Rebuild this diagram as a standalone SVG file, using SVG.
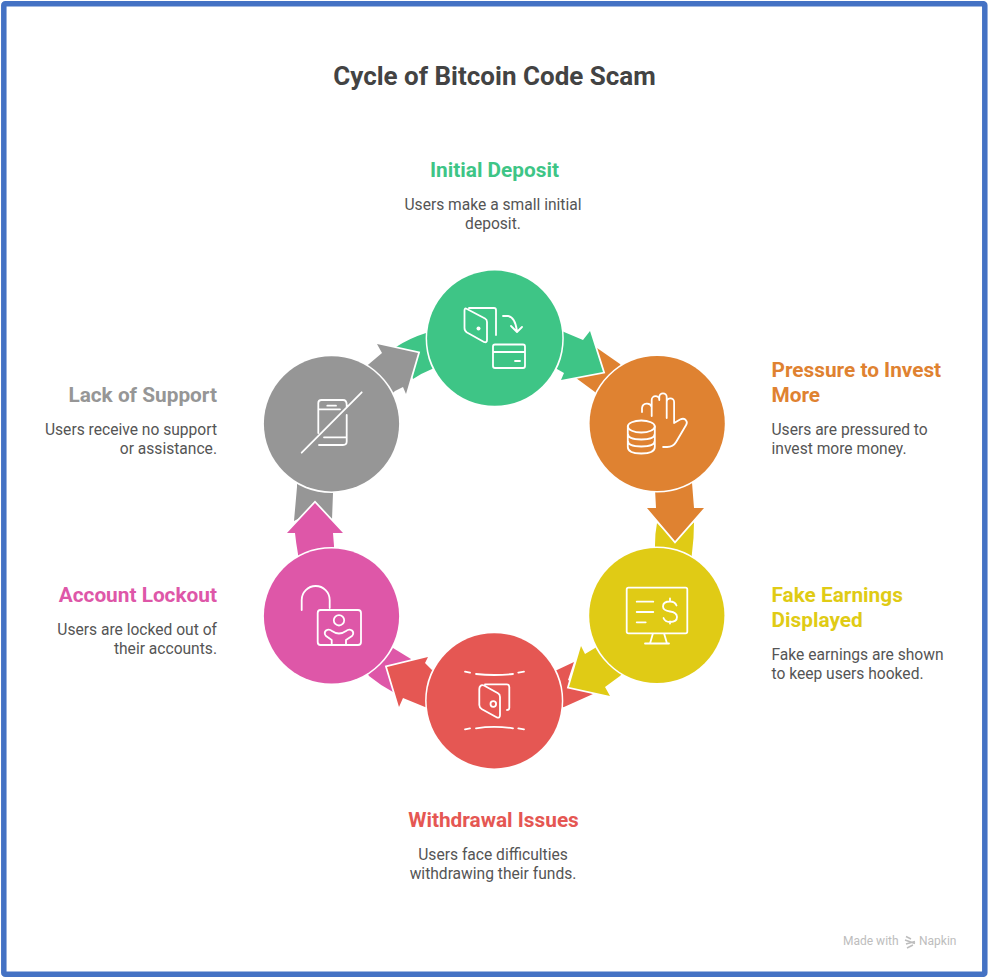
<svg xmlns="http://www.w3.org/2000/svg" width="989" height="978" viewBox="0 0 989 978">
<style>
text{font-family:Roboto,"Liberation Sans",sans-serif}
.title{font-size:26px;font-weight:700;fill:#434343;text-anchor:middle}
.h{font-size:20.8px;font-weight:700}
.b{font-size:15.6px;fill:#555}
.m{text-anchor:middle}
.e{text-anchor:end}
.c{stroke:#fff;stroke-width:3;paint-order:stroke}
.head{stroke:#fff;stroke-width:3.5;paint-order:stroke;stroke-linejoin:miter}
.i{fill:none;stroke:#fff;stroke-width:1.8;stroke-linecap:round;stroke-linejoin:round}
.g{fill:#3EC586}.o{fill:#DF8231}.y{fill:#E0CB15}.r{fill:#E55753}.p{fill:#DE57A8}.a{fill:#969696}
</style>
<rect width="989" height="978" fill="#fff"/>
<rect x="3.8" y="3.8" width="981" height="970.5" rx="1.5" fill="none" stroke="#4472C4" stroke-width="5.5"/>
<text class="title" x="494.5" y="85">Cycle of Bitcoin Code Scam</text>
<g id="connectors">
<g id="tails">
<path class="g" d="M396,347Q410,338 426,333L450,335L450,362L432,369Q422,373 413,379L405,360Z"/>
<path class="o" d="M597,348L620,364L640,400L610,410L595,392L576,378L590,360Z"/>
<path class="y" d="M657,523L675,541L694,522Q694,538 692,553L690,570L655,570L655,545Q655,533 657,523Z"/>
<path class="r" d="M574,662L557,670L540,675L540,712L564,707L593,694L568,680Z"/>
<path class="p" d="M393,648L411,659L400,680L393,692Q380,685 369,676L360,660L375,640Z"/>
<path class="a" d="M297,487L297,470L335,470L333,493L332,520L315,510L294,521Z"/>
</g>
<g id="heads">
<path class="g head" d="M545,320L564,332L583,340L590,331L603,372L561,380L564,373L557,369L540,360Z"/>
<path class="o head" d="M654,470L656,508L647,508L675,541L704,508L694,508L691,470Z"/>
<path class="y head" d="M610,635L595,648L585,654L581,646L569,687L610,696L605,687L620,676L635,660Z"/>
<path class="r head" d="M445,665L432,670L425,663L428,657L387,667L399,707L403,698L425,707L445,712Z"/>
<path class="p head" d="M298,570L298,554Q296,543 295,533L287,533L315,503L343,533L333,533L334,546L334,570Z"/>
<path class="a head" d="M355,375L369,364L382,353L377,344L418,353L406,394L403,387L395,391L385,400Z"/>
</g>
</g>
<g id="node-initial-deposit">
<circle class="g c" cx="494.7" cy="338.2" r="67.6"/>
<path class="i" d="M466,308.5L485,318.5Q487,319.5 487,322V340Q487,343 484,342L467,332.5Q464.5,331 464.5,328V311Q464.5,308 466,308.5ZM469,308H494Q496,308 496,310V335M503,316H508Q515,317 517,331M511,326L517,332L522,327M495,344.5H523Q525,344.5 525,346.5V366Q525,368 523,368H495Q493,368 493,366V346.5Q493,344.5 495,344.5ZM493,352H525M515,361H520"/>
<circle cx="478.5" cy="328.5" r="2" fill="#fff"/>
<text class="h m" x="494.5" y="176.5" fill="#3EC586">Initial Deposit</text>
<text class="b m" x="493" y="209.5">Users make a small initial</text>
<text class="b m" x="493" y="228.5">deposit.</text>
</g>
<g id="node-pressure">
<circle class="o c" cx="657.2" cy="423.5" r="67.6"/>
<ellipse class="i" cx="641.3" cy="426.5" rx="13.5" ry="6"/>
<path class="i" d="M627.8,426.5V447Q627.8,453.5 641.3,453.5T654.8,447V426.5M627.8,433.5Q627.8,439.5 641.3,439.5T654.8,433.5M627.8,440.5Q627.8,446.5 641.3,446.5T654.8,440.5M642,412V408a5,5 0 0 1 9.7,-1M651.7,416V400a3.8,3.8 0 0 1 7.6,0V397a3.7,3.7 0 0 1 7.4,0V418M666.7,402a3.7,3.7 0 0 1 7.4,0V423l6,-3.5q4,-2 6,1q1.5,2 0,4.5l-10,17q-3,5 -9,5h-4"/>
<text class="h" x="771.5" y="376.5" fill="#DF8231">Pressure to Invest</text>
<text class="h" x="771.5" y="401.5" fill="#DF8231">More</text>
<text class="b" x="771.5" y="434.5">Users are pressured to</text>
<text class="b" x="771.5" y="453.5">invest more money.</text>
</g>
<g id="node-fake-earnings">
<circle class="y c" cx="656.8" cy="615.5" r="67.6"/>
<path class="i" d="M628.5,587.7H685.5Q687.3,587.7 687.3,589.5V631.5Q687.3,633.3 685.5,633.3H628.5Q626.7,633.3 626.7,631.5V589.5Q626.7,587.7 628.5,587.7ZM653,633.3L650,643.5M664,633.3L667,643.5M645,643.5H669M636.7,601.7H653.3M636.7,612H653.3M636.7,622.3H645.7M676.5,605.5q-1.5,-4 -6.5,-4q-7,0 -7,5q0,4 7,5q7,1 7,5.5q0,5 -7,5q-5,0 -6.5,-4M670,598.5V601.5M670,621.5V623.5"/>
<text class="h" x="771.5" y="601.5" fill="#E0CB15">Fake Earnings</text>
<text class="h" x="771.5" y="626.5" fill="#E0CB15">Displayed</text>
<text class="b" x="771.5" y="659.5">Fake earnings are shown</text>
<text class="b" x="771.5" y="678.5">to keep users hooked.</text>
</g>
<g id="node-withdrawal">
<circle class="r c" cx="494.2" cy="700.8" r="67.6"/>
<path class="i" d="M465,671.7L470,672.7M476,674Q494,676 513,674M518.3,672.7L524,671.7M465,729.3L470,728.3M476,728.3Q494,725.5 513,728.3M518.3,728.3L524,729.3M480.5,686Q481.5,684.5 484,685.5L498,693.3Q500,694.5 500,697V715Q500,718.5 497,717.5L482,709.3Q479.3,707.5 479.3,705V689Q479.3,687 480.5,686ZM485,684.3H507Q509.3,684.3 509.3,687V708Q509.3,710 507,710"/>
<circle class="i" cx="493.3" cy="704" r="2.8"/>
<text class="h m" x="493.5" y="826.5" fill="#E55753">Withdrawal Issues</text>
<text class="b m" x="493" y="859.5">Users face difficulties</text>
<text class="b m" x="493" y="878.5">withdrawing their funds.</text>
</g>
<g id="node-account-lockout">
<circle class="p c" cx="331.5" cy="616" r="67.6"/>
<path class="i" d="M301.7,610V600a14,14 0 0 1 28,0V608M320.5,610H358Q361,610 361,613V642Q361,645 358,645H320.5Q317.7,645 317.7,642V613Q317.7,610 320.5,610ZM331.7,644.5V640L326,636q-2.5,-3 0,-5.5q3,-2 6,0.5q7,5 14,0q3,-2.5 6,-0.5q2.5,2.5 0,5.5L346,640V644.5"/>
<circle class="i" cx="339" cy="620.3" r="5.2"/>
<text class="h e" x="217" y="601.5" fill="#DE57A8">Account Lockout</text>
<text class="b e" x="217" y="634.5">Users are locked out of</text>
<text class="b e" x="217" y="653.5">their accounts.</text>
</g>
<g id="node-lack-of-support">
<circle class="a c" cx="331.5" cy="423.8" r="67.6"/>
<path class="i" d="M301.7,452.7L361.7,392.3M318.3,433V403Q318.3,400 321.5,400H343Q346.7,400 346.7,405V407M346.7,415V441.5Q346.7,445 343,445H319M318.3,409.3H340M324,437.3H346.7M327.3,405.7H336"/>
<text class="h e" x="217" y="401.5" fill="#969696">Lack of Support</text>
<text class="b e" x="217" y="434.5">Users receive no support</text>
<text class="b e" x="217" y="453.5">or assistance.</text>
</g>
<g id="watermark">
<text x="843" y="945" font-size="12" fill="#bdbdbd">Made with</text>
<path d="M906,936.5L911,939M905,940L915,943.5M906,944L915,941.5M907,948L913,945" fill="none" stroke="#bdbdbd" stroke-width="1.5"/>
<text x="919" y="945" font-size="12" fill="#bdbdbd">Napkin</text>
</g>
</svg>
